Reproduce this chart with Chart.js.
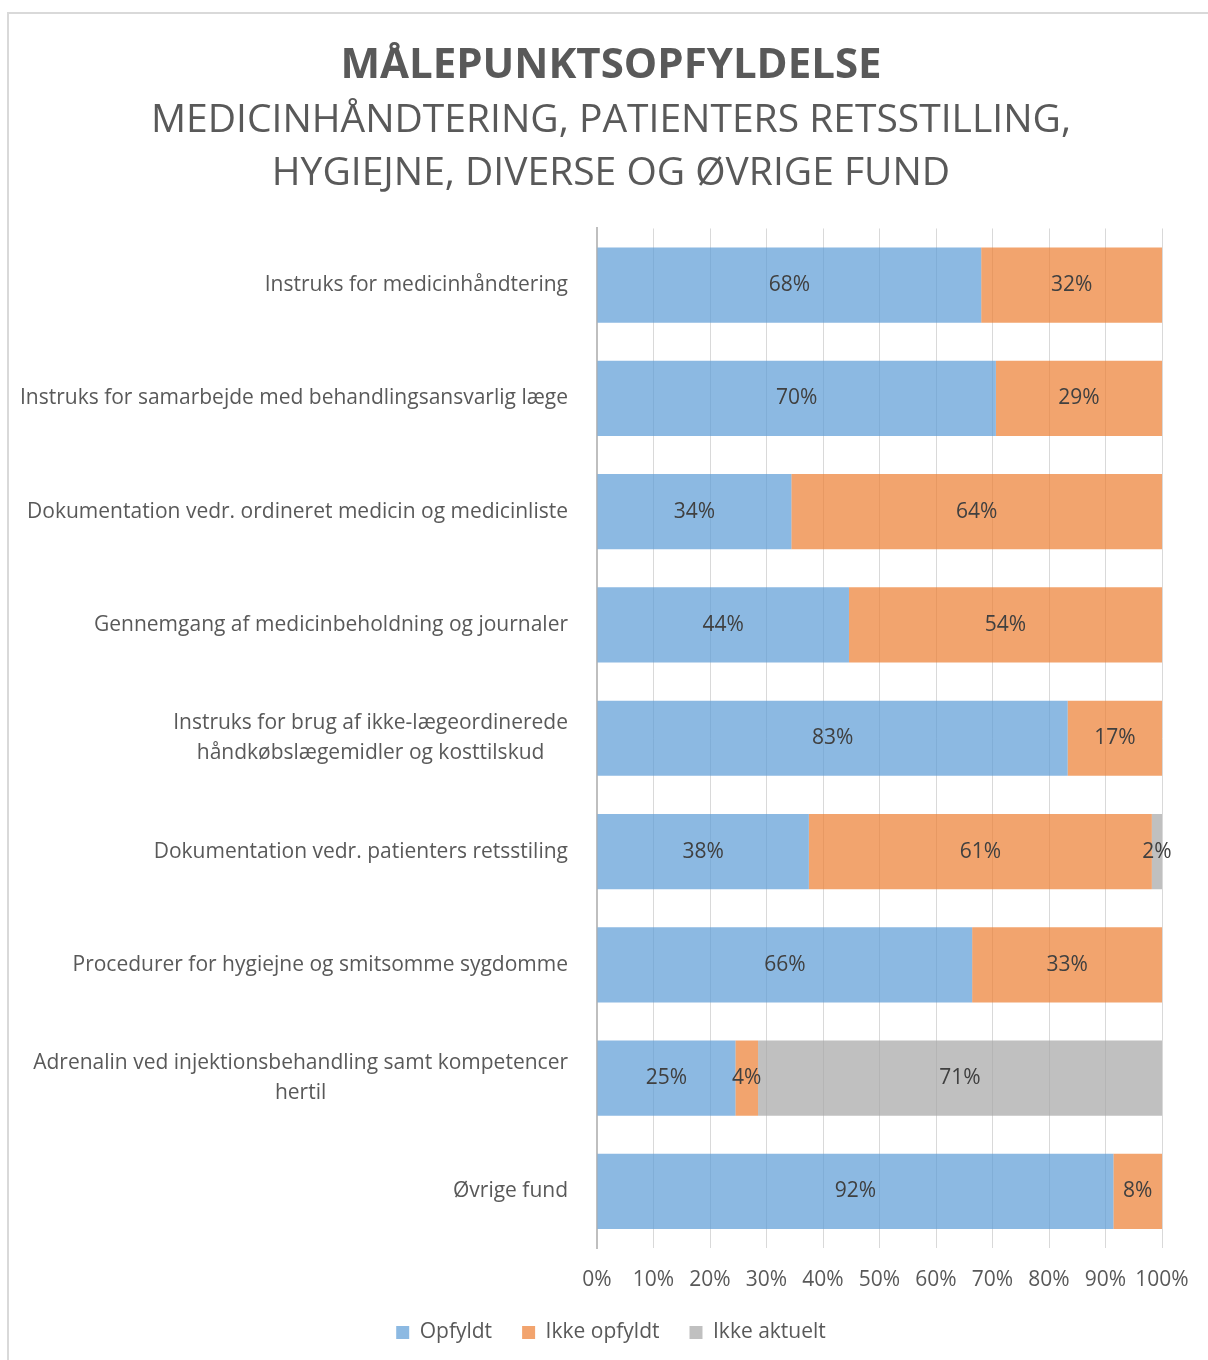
<!DOCTYPE html>
<html>
<head>
<meta charset="utf-8">
<script src="https://cdn.jsdelivr.net/npm/chart.js@4.4.1/dist/chart.umd.min.js"></script>
<style>
  body { margin: 0; background: #fff; overflow: hidden; }
  #box {
    position: absolute; left: 7px; top: 12px;
    width: 1204px; height: 1380px;
    border: 2px solid #d9d9d9;
  }
</style>
</head>
<body>
<div id="box"><canvas id="chart" width="1204" height="1380"></canvas></div>
<script>
const categories = [
    'Instruks for medicinhåndtering',
    'Instruks for samarbejde med behandlingsansvarlig læge',
    'Dokumentation vedr. ordineret medicin og medicinliste',
    'Gennemgang af medicinbeholdning og journaler',
    ['Instruks for brug af ikke-lægeordinerede', 'håndkøbslægemidler og kosttilskud'],
    'Dokumentation vedr. patienters retsstiling',
    'Procedurer for hygiejne og smitsomme sygdomme',
    ['Adrenalin ved injektionsbehandling samt kompetencer', 'hertil'],
    'Øvrige fund'
]

// bar lengths (percent)
const opfyldt = [68.0, 70.6, 34.4, 44.6, 83.3, 37.5, 66.4, 24.5, 91.4]
const ikkeOpfyldt = [32.0, 29.4, 65.6, 55.4, 16.7, 60.7, 33.6, 4.0, 8.6]
const ikkeAktuelt = [0, 0, 0, 0, 0, 1.8, 0, 71.5, 0]

// the labels printed in the bars
const opfyldtLabels = ['68%', '70%', '34%', '44%', '83%', '38%', '66%', '25%', '92%']
const ikkeOpfyldtLabels = ['32%', '29%', '64%', '54%', '17%', '61%', '33%', '4%', '8%']
const ikkeAktueltLabels = ['', '', '', '', '', '2%', '', '71%', '']

const xTicks = [0, 10, 20, 30, 40, 50, 60, 70, 80, 90, 100]

const FONT = "'Open Sans', sans-serif"
const TEXT = '#595959'

const barLabels = {
    id: 'barLabels',
    afterDatasetsDraw(chart) {
        const ctx = chart.ctx
        ctx.save()
        ctx.font = '21px ' + FONT
        ctx.fillStyle = '#404040'
        ctx.textAlign = 'center'
        ctx.textBaseline = 'middle'
        chart.data.datasets.forEach((ds, i) => {
            chart.getDatasetMeta(i).data.forEach((bar, j) => {
                const txt = ds.valueLabels[j]
                if (!txt) return
                ctx.fillText(txt, (bar.x + bar.base) / 2, bar.y)
            })
        })
        ctx.restore()
    }
}

// category labels: block right aligned to the axis, lines centred inside the block
const catLabels = {
    id: 'catLabels',
    afterDraw(chart) {
        const ctx = chart.ctx
        const yScale = chart.scales.y
        const right = chart.chartArea.left - 29
        ctx.save()
        ctx.font = '21px ' + FONT
        ctx.fillStyle = TEXT
        ctx.textAlign = 'center'
        ctx.textBaseline = 'middle'
        categories.forEach((label, i) => {
            const lines = Array.isArray(label) ? label : [label]
            const w = Math.max(...lines.map(l => ctx.measureText(l).width))
            const cx = right - w / 2
            const y0 = yScale.getPixelForTick(i) - (lines.length - 1) * 15
            lines.forEach((l, k) => ctx.fillText(l, cx, y0 + k * 30))
        })
        ctx.restore()
    }
}

new Chart(document.getElementById('chart'), {
    type: 'bar',
    data: {
        labels: categories,
        datasets: [
            { label: 'Opfyldt', data: opfyldt, valueLabels: opfyldtLabels, backgroundColor: 'rgba(91,155,213,0.7)' },
            { label: 'Ikke opfyldt', data: ikkeOpfyldt, valueLabels: ikkeOpfyldtLabels, backgroundColor: 'rgba(237,125,49,0.7)' },
            { label: 'Ikke aktuelt', data: ikkeAktuelt, valueLabels: ikkeAktueltLabels, backgroundColor: 'rgba(165,165,165,0.7)' }
        ]
    },
    options: {
        indexAxis: 'y',
        responsive: false,
        animation: false,
        barPercentage: 0.664,
        categoryPercentage: 1,
        layout: { padding: { left: 0, right: 0, top: 0, bottom: 41 } },
        scales: {
            x: {
                stacked: true,
                min: 0,
                max: 100,
                afterBuildTicks: (scale) => { scale.ticks = xTicks.map(v => ({ value: v })) },
                afterFit: (scale) => { scale.height = 44 },
                ticks: {
                    callback: v => v + '%',
                    color: TEXT,
                    font: { family: FONT, size: 21 },
                    padding: 19,
                    maxRotation: 0
                },
                grid: {
                    color: ctx => ctx.tick && ctx.tick.value === 0 ? '#bfbfbf' : '#d9d9d9',
                    lineWidth: 1,
                    drawTicks: false
                },
                border: { display: false }
            },
            y: {
                stacked: true,
                ticks: { color: 'transparent', font: { family: FONT, size: 20 } },
                grid: { display: false },
                border: { display: true, color: '#bfbfbf', width: 2 },
                afterFit: (scale) => { scale.width = 588 }
            },
            // empty strip on the right so the plot ends at 100% where the reference does
            yRight: {
                type: 'category',
                position: 'right',
                ticks: { display: false },
                grid: { display: false },
                border: { display: false },
                afterFit: (scale) => { scale.width = 51 }
            }
        },
        plugins: {
            title: {
                display: true,
                text: 'MÅLEPUNKTSOPFYLDELSE',
                color: TEXT,
                font: { family: FONT, size: 42, weight: 'bold', lineHeight: 1.2 },
                padding: { top: 27, bottom: 3 }
            },
            subtitle: {
                display: true,
                text: ['MEDICINHÅNDTERING, PATIENTERS RETSSTILLING,', 'HYGIEJNE, DIVERSE OG ØVRIGE FUND'],
                color: TEXT,
                font: { family: FONT, size: 39, lineHeight: 1.36 },
                padding: { top: 0, bottom: 28 }
            },
            legend: {
                position: 'bottom',
                labels: {
                    boxWidth: 13,
                    boxHeight: 13,
                    padding: 30,
                    color: TEXT,
                    font: { family: FONT, size: 21 }
                }
            },
            tooltip: { enabled: false }
        }
    },
    plugins: [barLabels, catLabels]
})
</script>
</body>
</html>
